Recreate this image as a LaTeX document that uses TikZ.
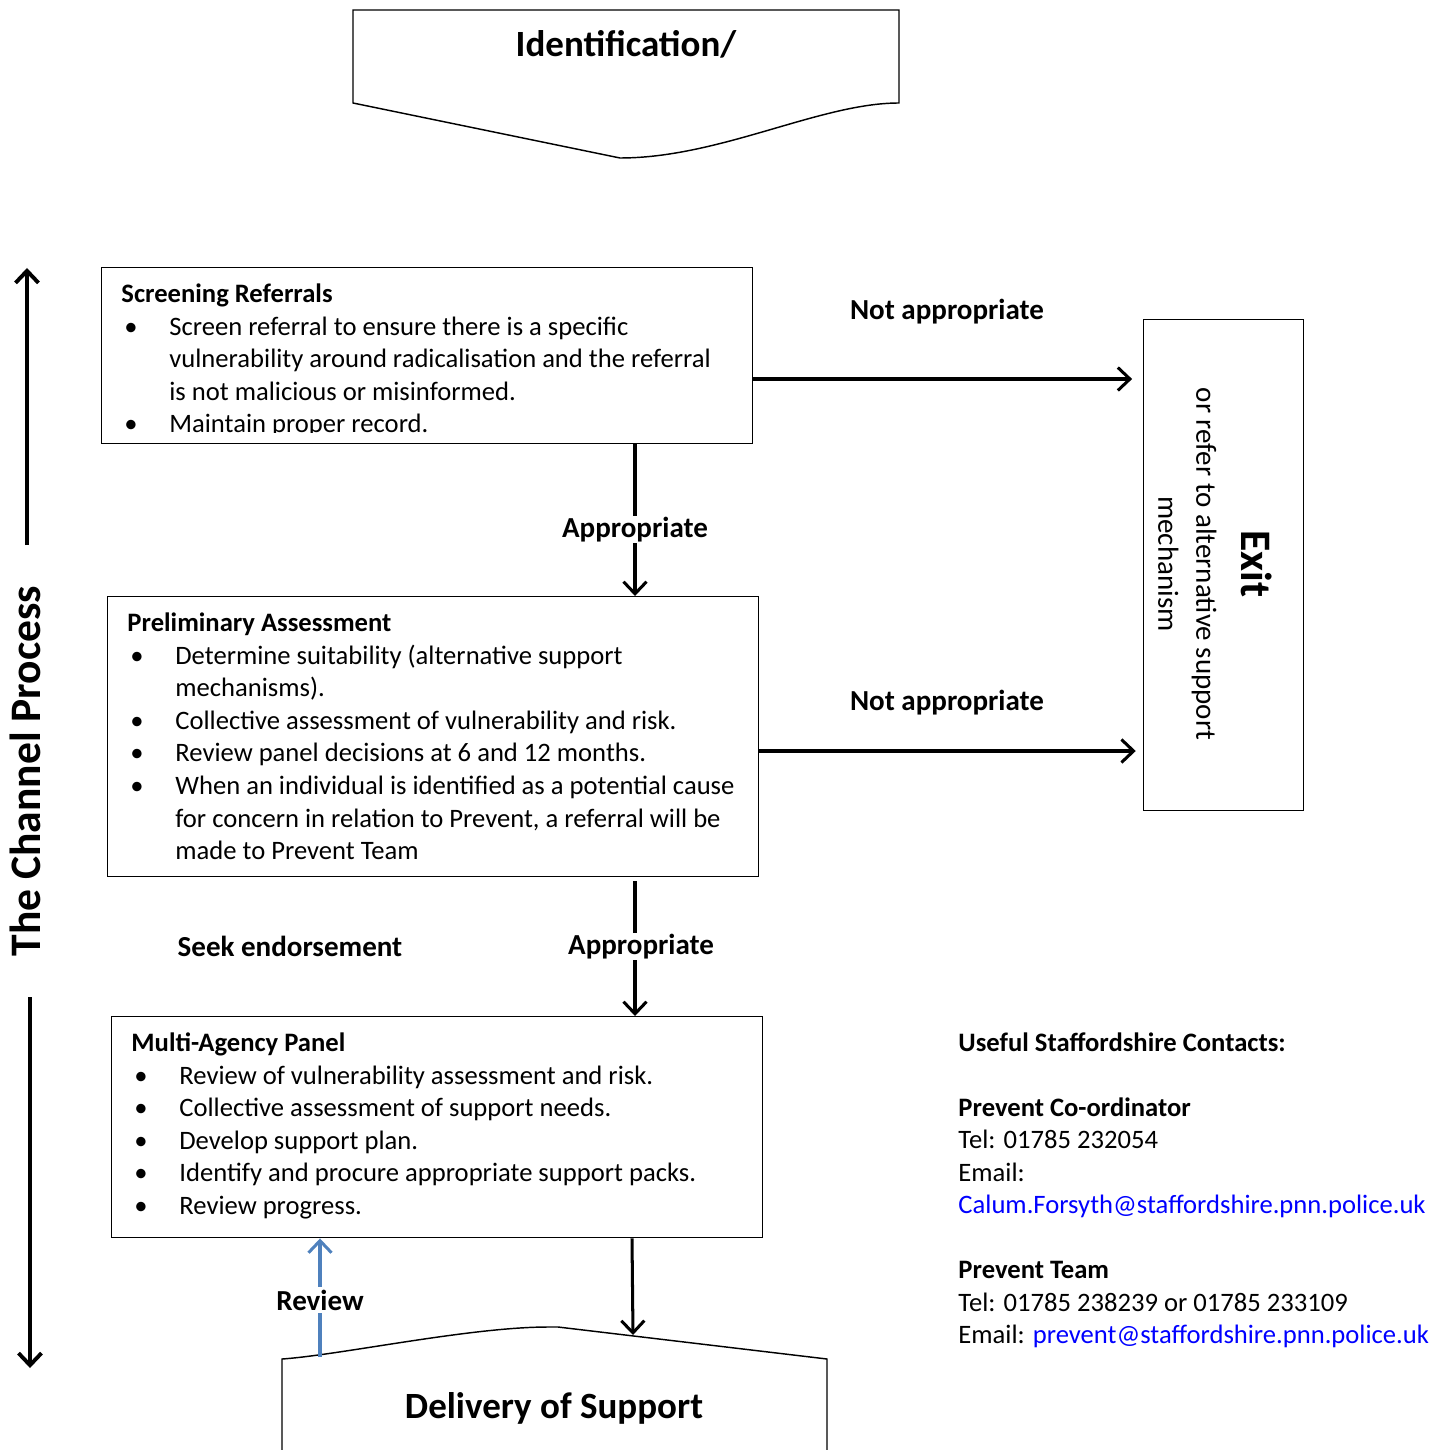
\documentclass[tikz,border=0pt]{standalone}
\usepackage{fontspec}
\setmainfont{Carlito}
\usetikzlibrary{arrows.meta}
\definecolor{reviewblue}{HTML}{4F81BD}
\definecolor{linkblue}{HTML}{0000FF}
\newcommand\bullitem[1]{\par\noindent\hangindent=19.8pt\hangafter=1\makebox[19.8pt][l]{\hspace{1.2pt}\textbullet}#1}
\newcommand\panel[2]{\begin{minipage}[t]{265pt}\noindent\strut\textbf{#1}#2\end{minipage}}
\begin{document}
\begin{tikzpicture}[x=0.41335pt,y=-0.41335pt,
  box/.style={draw,line width=0.6pt,inner sep=0pt,anchor=north west},
  boxtext/.style={inner sep=0pt,anchor=north west,font=\fontsize{11}{13.5}\selectfont},
  lbl/.style={font=\fontsize{12}{14}\selectfont\bfseries},
  title/.style={font=\fontsize{15.3}{18}\selectfont\bfseries},
  arr/.style={line width=1.25pt,-{Straight Barb[length=5pt,width=9.5pt]}},
  bigarr/.style={line width=1.6pt,-{Straight Barb[length=5pt,width=9.5pt]}},
  revarr/.style={reviewblue,line width=1.25pt,-{Straight Barb[length=5pt,width=9.5pt]}}]
\useasboundingbox (0,0) rectangle (1448,1450);
\draw[line width=0.6pt] (353,10) -- (899,10) -- (899,103) .. controls (820,103) and (720,158) .. (620,158) -- (353,103) -- cycle;
\node[title] (ident) at (626,44) {Identification/};
\node[box,minimum width=269.1pt,minimum height=72.75pt] (screen) at (101,267) {};
\begin{scope}
\clip (101,267) rectangle (752,432);
\node[boxtext] (screentext) at (121,279) {\panel{Screening Referrals}{
\bullitem{Screen referral to ensure there is a specific\\vulnerability around radicalisation and the referral\\is not malicious or misinformed.}
\bullitem{Maintain proper record.}}};
\end{scope}
\node[box,minimum width=269.1pt,minimum height=115.74pt] (prelim) at (107,596) {};
\node[boxtext] (prelimtext) at (127,608) {\panel{Preliminary Assessment}{
\bullitem{Determine suitability (alternative support\\mechanisms).}
\bullitem{Collective assessment of vulnerability and risk.}
\bullitem{Review panel decisions at 6 and 12 months.}
\bullitem{When an individual is identified as a potential cause\\for concern in relation to Prevent, a referral will be\\made to Prevent Team}}};
\node[box,minimum width=269.1pt,minimum height=91.35pt] (multi) at (111,1016) {};
\node[boxtext] (multitext) at (131,1028) {\panel{Multi-Agency Panel}{
\bullitem{Review of vulnerability assessment and risk.}
\bullitem{Collective assessment of support needs.}
\bullitem{Develop support plan.}
\bullitem{Identify and procure appropriate support packs.}
\bullitem{Review progress.}}};
\node[box,minimum width=66.14pt,minimum height=202.95pt] (exit) at (1143,319) {};
\node[rotate=-90,align=center,font=\fontsize{12}{15.7}\selectfont] (exittext) at (1215,564) {{\fontsize{18}{20}\selectfont\bfseries Exit}\\[2.9pt]or refer to alternative support\\mechanism};
\draw[line width=0.6pt] (282,1450) -- (282,1359) .. controls (340,1355) and (470,1327) .. (548,1327) -- (558,1327) -- (827,1359) -- (827,1450);
\node[title] (deliv) at (554,1408) {Delivery of Support};
\coordinate (row1) at (0,379);
\coordinate (row2) at (0,751);
\coordinate (col1) at (635,0);
\coordinate (col2) at (632,0);
\coordinate (delivtop) at (633,1335);
\coordinate (reviewfoot) at (320,1357);
\draw[arr,shorten >=4.5pt] (screen.east |- row1) -- (exit.west |- row1);
\draw[arr,shorten >=3pt] (prelim.east |- row2) -- (exit.west |- row2);
\node[lbl] (notapp1) at (947,312) {Not appropriate};
\node[lbl] (notapp2) at (947,703) {Not appropriate};
\draw[arr] (screen.south -| col1) -- (prelim.north -| col1) node[lbl,pos=0.56,fill=white,inner sep=0.5pt] (app1) {Appropriate};
\draw[arr,shorten <=1.6pt] (prelim.south -| col1) -- (multi.north -| col1) node[lbl,pos=0.5,xshift=2.5pt,fill=white,inner sep=0.5pt] (app2) {Appropriate};
\node[lbl] (seek) at (290,946) {Seek endorsement};
\draw[arr] (multi.south -| col2) -- (delivtop);
\draw[revarr] (reviewfoot) -- (multi.south -| reviewfoot) node[lbl,midway,yshift=-1pt,fill=white,inner sep=1pt,text=black] (review) {Review};
\node[rotate=90,font=\fontsize{18}{21}\selectfont\bfseries] (channel) at (25,771) {The Channel Process};
\coordinate (chanup) at (27,545);
\coordinate (chantop) at (27,268);
\coordinate (chanlow) at (30,997);
\coordinate (chanbottom) at (30,1368);
\draw[bigarr] (chanup) -- (chantop);
\draw[bigarr] (chanlow) -- (chanbottom);
\node[anchor=north west,inner sep=0pt,align=left,font=\fontsize{11}{13.43}\selectfont] (contacts) at (958,1028) {\strut\textbf{Useful Staffordshire Contacts:}\\[13.43pt]
\textbf{Prevent Co-ordinator}\\Tel: 01785 232054\\Email:\\\textcolor{linkblue}{Calum.Forsyth@staffordshire.pnn.police.uk}\\[13.43pt]
\textbf{Prevent Team}\\Tel: 01785 238239 or 01785 233109\\Email: \textcolor{linkblue}{prevent@staffordshire.pnn.police.uk}};
\end{tikzpicture}
\end{document}
